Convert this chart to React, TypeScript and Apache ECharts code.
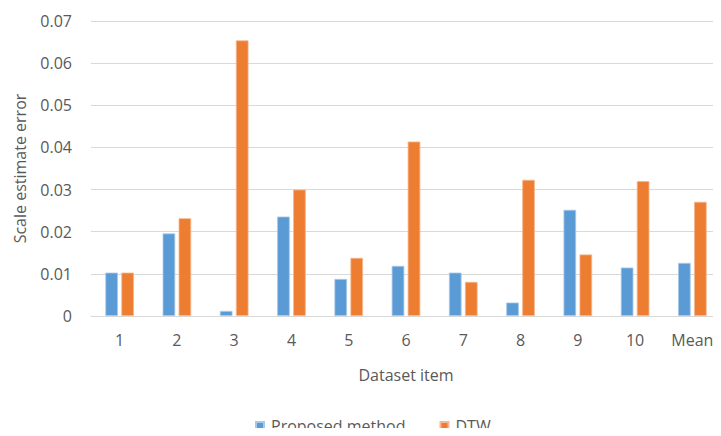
import React, { useEffect, useRef } from "react";
import * as echarts from "echarts";

// Dataset items on the horizontal axis
const categories: string[] = ["1", "2", "3", "4", "5", "6", "7", "8", "9", "10", "Mean"];

// Scale estimate error per dataset item
const proposedMethod: number[] = [0.0103, 0.0196, 0.0012, 0.0236, 0.0088, 0.0119, 0.0103, 0.0032, 0.0252, 0.0115, 0.0126];
const dtw: number[] = [0.0103, 0.0232, 0.0654, 0.0300, 0.0138, 0.0414, 0.0081, 0.0323, 0.0146, 0.0320, 0.0271];

// Y axis range and step
const yMin = 0;
const yMax = 0.07;
const yStep = 0.01;

const FONT = "'Open Sans', 'DejaVu Sans', sans-serif";
const TEXT = "#595959";
const GRID = "#d9d9d9";

export default function App() {
  const ref = useRef<HTMLDivElement>(null);

  useEffect(() => {
    if (!ref.current) return;
    const chart = echarts.init(ref.current, undefined, { renderer: "svg" });
    chart.setOption({
      animation: false,
      backgroundColor: "#ffffff",
      textStyle: { fontFamily: FONT, color: TEXT },
      grid: { left: 91, right: -5, top: 21, bottom: 120, containLabel: false },
      legend: {
        left: 250,
        top: 413,
        itemWidth: 8,
        itemHeight: 8,
        itemGap: 34,
        icon: "rect",
        textStyle: { fontFamily: FONT, fontSize: 16, color: TEXT, padding: [0, 0, 0, 2] },
        data: ["Proposed method", "DTW"],
      },
      xAxis: {
        type: "category",
        data: categories,
        axisLine: { show: true, lineStyle: { color: GRID, width: 1 } },
        axisTick: { show: false },
        axisLabel: { fontFamily: FONT, fontSize: 16, color: TEXT, margin: 16 },
        name: "Dataset item",
        nameLocation: "middle",
        nameGap: 51,
        nameTextStyle: { fontFamily: FONT, fontSize: 16, color: TEXT },
      },
      yAxis: {
        type: "value",
        min: yMin,
        max: yMax,
        interval: yStep,
        axisLine: { show: false },
        axisTick: { show: false },
        splitLine: { show: true, lineStyle: { color: GRID, width: 1 } },
        axisLabel: {
          fontFamily: FONT,
          fontSize: 16,
          color: TEXT,
          margin: 19,
          formatter: (v: number) => (v === 0 ? "0" : v.toFixed(2)),
        },
        name: "Scale estimate error",
        nameLocation: "middle",
        nameGap: 63,
        nameTextStyle: { fontFamily: FONT, fontSize: 16, color: TEXT },
      },
      series: [
        {
          name: "Proposed method",
          type: "bar",
          data: proposedMethod,
          barWidth: 12.6,
          barGap: "27%",
          itemStyle: { color: "#5b9bd5", borderColor: "#a9c9ea", borderWidth: 0.8 },
        },
        {
          name: "DTW",
          type: "bar",
          data: dtw,
          barWidth: 12.6,
          barGap: "27%",
          itemStyle: { color: "#ed7d31", borderColor: "#f5b88f", borderWidth: 0.8 },
        },
      ],
    });
    return () => chart.dispose();
  }, []);

  return <div ref={ref} style={{ width: 721, height: 436, margin: -8 }} />;
}
